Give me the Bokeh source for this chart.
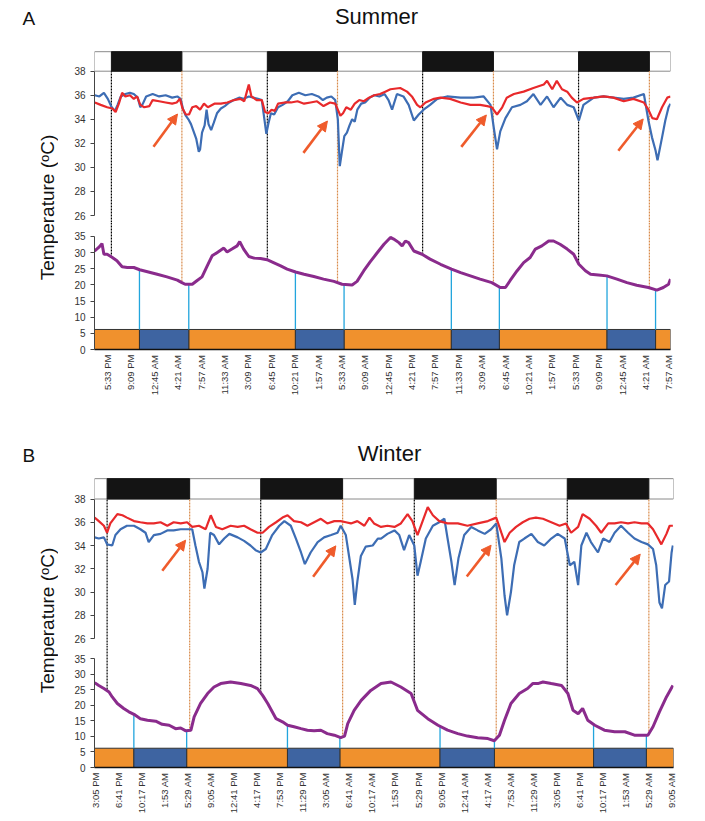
import numpy as np
from bokeh.plotting import figure
from bokeh.layouts import column, row
from bokeh.models import Range1d, LinearAxis, FixedTicker, Label, Arrow, NormalHead
from bokeh.embed import file_html
from bokeh.resources import INLINE

FONT = "Liberation Sans"
RED = "#e8292b"
BLUE = "#3d6db4"
PURPLE = "#8a2b8c"
ORANGE = "#f0912d"
BAR_BLUE = "#3e64a1"
ARROW_C = "#ef5b2b"
CYAN = "#22a5dd"
DOT_OR = "#d98b4b"

# ---------------- SUMMER data (time in hours from midnight of day 0) -------------
s_red_t = [15.6, 16.5, 17.5, 18.3, 18.8, 19.3, 19.8, 20.3, 21.0, 21.6, 22.1, 22.6, 23.2, 24.0, 24.5, 25.5,
           26.5, 27.5, 28.2, 28.7, 29.1, 29.6, 30.1, 30.6, 31.2, 31.8, 32.4, 33.0, 34.0, 35.0, 36.0, 37.0,
           38.0, 38.6, 39.0, 39.3, 39.7, 40.5, 41.3, 41.8, 42.3, 42.8, 43.3, 43.8, 44.8, 45.8, 46.8, 47.8,
           48.8, 49.8, 50.8, 51.8, 52.6, 53.0, 53.4, 53.8, 54.3, 55.0, 55.6, 56.3, 57.0, 57.8, 58.6, 59.5,
           60.3, 61.1, 62.6, 63.65, 64.4, 65.2, 65.7, 66.5, 67.8, 68.8, 70.3, 71.9, 73.4, 74.9, 76.0, 76.7,
           77.5, 78.3, 79.0, 80.1, 81.6, 83.1, 84.7, 85.2, 86.0, 86.7, 87.5, 88.3, 89.0, 89.8, 90.8, 92.4,
           93.9, 95.4, 97.0, 98.5, 100.1, 100.8, 101.4, 102.1, 102.9, 103.7, 104.2]
s_red = [35.4, 35.2, 35.0, 34.9, 34.6, 35.3, 36.2, 35.9, 36.0, 35.7, 35.9, 35.2, 35.0, 35.1, 35.6, 35.5,
         35.4, 35.3, 35.4, 35.7, 34.9, 34.4, 34.4, 35.0, 35.1, 34.8, 35.3, 35.0, 35.3, 35.3, 35.4, 35.6,
         35.7, 35.5, 36.3, 36.9, 35.9, 35.6, 35.6, 34.6, 34.5, 34.8, 34.7, 35.3, 35.4, 35.4, 35.5, 35.3,
         35.4, 35.5, 35.1, 35.4, 35.3, 34.8, 34.3, 34.5, 35.0, 34.8, 35.3, 35.6, 35.5, 35.8, 36.0, 36.1,
         36.3, 36.5, 36.6, 36.3, 35.9, 35.2, 35.0, 35.4, 35.7, 35.8, 35.7, 35.4, 35.2, 35.2, 35.1, 35.0,
         34.4, 35.0, 35.8, 36.1, 36.3, 36.6, 36.9, 37.2, 36.5, 37.2, 36.5, 36.3, 35.8, 35.4, 35.7, 35.8,
         35.9, 35.8, 35.5, 35.7, 35.4, 34.8, 34.1, 34.0, 35.0, 35.8, 35.9]

s_blue_t = [15.6, 16.3, 17.0, 17.6, 18.2, 18.7, 19.1, 19.6, 20.3, 21.0, 21.6, 22.2, 22.6, 23.0, 23.5, 24.5,
            25.5, 26.5, 27.5, 28.3, 28.8, 29.2, 29.6, 30.0, 30.4, 30.8, 31.2, 31.6, 31.8, 32.1, 32.5, 32.8,
            33.1, 33.5, 33.9, 34.4, 35.0, 35.6, 36.3, 37.0, 37.8, 38.5, 39.3, 40.0, 40.7, 41.3, 41.7, 42.0,
            42.3, 42.7, 43.2, 43.8, 44.5, 45.3, 46.0, 47.0, 48.0, 49.0, 50.0, 50.7, 51.3, 52.0, 52.6, 53.0,
            53.3, 53.6, 54.0, 54.4, 54.8, 55.2, 55.6, 56.0, 56.6, 57.2, 57.9, 58.6, 59.4, 60.2, 60.8, 61.35,
            62.1, 63.1, 63.9, 64.7, 65.45, 66.2, 67.2, 68.3, 69.8, 71.9, 73.9, 75.45, 76.5, 77.0, 77.5, 78.0,
            78.8, 79.8, 81.1, 82.1, 83.1, 84.2, 85.2, 86.2, 87.3, 88.3, 89.3, 90.1, 90.8, 92.4, 93.9, 95.45,
            97.0, 98.5, 100.1, 100.8, 101.35, 101.9, 102.2, 102.9, 103.4, 103.9, 104.2]
s_blue = [36.0, 35.9, 36.2, 35.7, 35.0, 34.7, 35.2, 35.9, 36.1, 36.2, 36.1, 35.8, 35.0, 35.3, 35.9, 36.1,
          35.9, 36.0, 35.8, 35.9, 35.7, 34.8, 34.3, 34.0, 33.6, 33.0, 32.4, 31.3, 31.5, 32.9, 33.5, 34.8,
          33.6, 33.1, 33.7, 34.5, 34.9, 35.1, 35.4, 35.6, 35.8, 35.7, 35.9, 35.8, 35.7, 35.6, 34.0, 32.8,
          33.6, 34.5, 34.4, 35.0, 35.2, 35.5, 36.0, 36.2, 36.0, 36.1, 35.9, 35.6, 35.8, 35.9, 35.6, 34.0,
          30.1, 31.2, 32.6, 32.9, 33.5, 34.0, 33.8, 34.8, 35.3, 35.4, 35.8, 36.0, 35.9, 36.1, 35.6, 34.8,
          36.1, 35.9, 35.2, 33.9, 34.4, 34.8, 35.2, 35.7, 35.9, 35.8, 35.8, 35.9, 35.2, 33.3, 31.5, 33.0,
          34.1, 35.0, 35.2, 35.5, 36.1, 35.2, 35.9, 35.0, 35.8, 35.2, 35.0, 33.9, 35.2, 35.8, 35.9, 35.8,
          35.7, 35.8, 36.1, 33.9, 32.5, 31.4, 30.6, 32.5, 33.9, 35.0, 35.3]

s_amb_t = [15.55, 16.2, 16.7, 17.0, 17.5, 18.3, 19.0, 19.8, 20.6, 21.6, 22.5, 23.7, 25.2, 26.7, 28.3, 29.0,
           29.5, 30.6, 31.3, 32.1, 32.9, 33.65, 34.4, 35.45, 35.96, 36.7, 37.5, 37.9, 38.5, 39.3, 40.1, 41.1,
           42.1, 43.1, 44.2, 45.2, 46.5, 47.8, 49.3, 50.8, 52.4, 53.65, 55.2, 55.96, 57.0, 58.0, 59.0, 60.1,
           61.1, 61.6, 62.4, 62.9, 63.4, 63.9, 64.7, 65.96, 67.2, 68.8, 70.5, 71.9, 73.4, 74.9, 76.7, 78.0,
           78.8, 79.5, 80.6, 81.6, 82.6, 83.4, 84.4, 85.45, 86.2, 87.2, 88.3, 89.3, 90.1, 91.1, 91.9, 93.1,
           94.4, 95.96, 97.5, 99.0, 100.8, 102.1, 103.1, 103.9, 104.2]
s_amb = [30.5, 31.6, 32.8, 29.5, 29.5, 28.5, 27.5, 25.6, 25.4, 25.4, 24.7, 24.1, 23.3, 22.5, 21.5, 20.7,
         20.2, 20.2, 21.3, 22.5, 25.9, 29.0, 30.0, 31.4, 30.2, 31.1, 32.1, 33.4, 31.1, 28.8, 28.3, 28.2,
         27.8, 26.9, 25.9, 24.9, 24.0, 23.3, 22.6, 21.8, 21.1, 20.2, 20.0, 21.1, 24.4, 27.2, 29.8, 32.6,
         34.7, 34.2, 33.1, 32.1, 33.6, 33.1, 30.5, 29.5, 28.0, 26.4, 24.9, 23.8, 22.8, 21.8, 20.7, 19.2,
         19.2, 21.3, 24.4, 26.9, 28.5, 31.1, 32.1, 33.6, 33.6, 32.6, 31.1, 29.5, 26.4, 24.4, 23.3, 23.1,
         22.8, 21.8, 20.7, 19.9, 19.2, 18.4, 19.2, 20.2, 21.8]

s_dark_start = [18.15, 42.15, 66.05, 90.05]
s_dark_end = [29.0, 52.95, 76.95, 100.95]
s_in_start = [22.47, 46.47, 70.47, 94.43]
s_in_end = [30.06, 53.96, 77.86, 101.9]
s_tick_labels = ["5:33 PM", "9:09 PM", "12:45 AM", "4:21 AM", "7:57 AM", "11:33 AM", "3:09 PM", "6:45 PM",
                 "10:21 PM", "1:57 AM", "5:33 AM", "9:09 AM", "12:45 PM", "4:21 PM", "7:57 PM", "11:33 PM",
                 "3:09 AM", "6:45 AM", "10:21 AM", "1:57 PM", "5:33 PM", "9:09 PM", "12:45 AM", "4:21 AM",
                 "7:57 AM"]
s_first_tick_min = 17 * 60 + 33
s_arrow_tail = [(24.63, 31.71), (47.7, 31.21), (72.0, 31.71), (96.17, 31.38)]
s_arrow_head = [(28.32, 34.44), (51.4, 33.86), (75.86, 34.36), (100.0, 34.03)]

# ---------------- WINTER data -------------
w_red_t = [14.95, 15.6, 16.4, 16.9, 17.4, 18.5, 19.3, 20.0, 21.1, 22.1, 23.2, 24.2, 25.25, 26.3, 27.3, 28.4,
           29.4, 30.2, 31.25, 32.3, 33.1, 33.9, 34.9, 36.2, 37.3, 38.3, 39.3, 40.4, 41.2, 42.2, 43.3, 44.3,
           45.1, 46.1, 47.2, 48.2, 49.25, 50.3, 51.3, 52.4, 53.4, 54.2, 55.0, 56.0, 57.1, 57.9, 58.6, 59.7,
           60.7, 61.8, 62.8, 63.85, 64.6, 65.4, 66.2, 67.0, 67.8, 68.8, 70.1, 71.7, 73.2, 74.8, 76.4, 77.7,
           78.5, 79.0, 79.8, 80.8, 81.85, 82.9, 83.9, 85.0, 86.3, 87.6, 88.6, 89.4, 90.5, 91.2, 92.3, 93.3,
           94.1, 95.2, 96.2, 97.2, 98.3, 99.3, 100.4, 101.4, 102.2, 103.0, 103.5, 104.3, 104.8, 105.3]
w_red = [36.4, 36.1, 35.7, 35.1, 35.9, 36.7, 36.6, 36.4, 36.1, 36.0, 35.9, 35.9, 36.0, 35.7, 36.0, 35.9,
         36.0, 35.6, 35.7, 35.4, 36.6, 35.6, 35.4, 35.7, 35.6, 35.7, 35.4, 35.1, 35.1, 35.6, 36.0, 36.4,
         36.6, 36.1, 36.0, 35.7, 36.0, 36.3, 35.9, 36.1, 36.1, 36.0, 35.9, 36.1, 35.7, 36.4, 35.9, 35.6,
         35.7, 35.6, 35.9, 36.7, 36.1, 34.9, 36.1, 37.3, 36.6, 36.1, 35.9, 35.9, 35.7, 35.9, 36.1, 36.4,
         35.1, 34.3, 35.1, 35.6, 36.0, 36.3, 36.4, 36.3, 36.0, 35.7, 35.9, 35.1, 35.6, 36.7, 36.3, 35.7,
         35.1, 35.9, 35.9, 36.0, 35.9, 36.0, 35.9, 35.9, 35.4, 34.6, 34.1, 35.0, 35.7, 35.7]

w_blue_t = [14.95, 15.6, 16.4, 16.9, 17.7, 18.2, 19.0, 20.0, 21.1, 22.1, 22.9, 23.4, 24.2, 25.25, 26.3, 27.3,
            28.4, 29.4, 30.2, 30.7, 31.25, 31.8, 32.1, 32.6, 33.0, 33.6, 34.4, 35.2, 36.0, 37.3, 38.3, 39.3,
            40.1, 40.9, 41.7, 42.7, 43.8, 44.6, 45.6, 46.4, 47.2, 47.8, 48.7, 49.8, 50.8, 51.9, 52.9, 53.4,
            54.2, 54.7, 55.25, 55.6, 56.0, 56.55, 57.3, 58.4, 59.2, 59.7, 60.7, 61.8, 62.55, 63.3, 64.1, 64.9,
            65.4, 65.9, 66.7, 67.8, 68.8, 69.6, 70.1, 70.7, 71.2, 71.8, 72.7, 73.8, 74.8, 75.9, 76.9, 77.7,
            78.5, 79.0, 79.4, 80.0, 80.5, 81.3, 82.1, 83.2, 84.2, 85.2, 86.3, 87.3, 88.4, 89.2, 89.9, 90.5,
            91.0, 91.8, 92.5, 93.6, 94.4, 95.4, 96.2, 97.2, 98.3, 99.3, 100.4, 101.4, 102.2, 102.7, 103.2,
            103.6, 104.1, 104.7, 105.1, 105.3]
w_blue = [34.7, 34.6, 34.7, 34.1, 34.0, 34.9, 35.4, 35.7, 35.7, 35.4, 35.1, 34.3, 34.9, 35.0, 35.3, 35.3,
          35.4, 35.4, 35.4, 34.0, 32.6, 31.7, 30.3, 32.0, 35.1, 34.9, 34.1, 34.6, 35.0, 34.7, 34.4, 34.0,
          33.6, 33.4, 33.7, 34.9, 35.7, 36.1, 35.7, 34.6, 33.4, 32.4, 33.4, 34.3, 34.7, 34.9, 35.1, 35.7,
          34.9, 33.1, 31.1, 28.9, 30.9, 33.1, 33.9, 34.0, 34.6, 34.6, 35.0, 35.3, 34.9, 33.6, 34.9, 34.0,
          31.4, 32.6, 34.6, 35.7, 36.0, 36.3, 34.6, 32.6, 30.6, 32.9, 34.9, 35.6, 35.3, 35.0, 35.4, 35.9,
          32.9, 29.7, 28.0, 30.0, 32.3, 34.3, 34.6, 35.0, 34.3, 34.0, 34.6, 35.0, 34.6, 32.3, 32.6, 30.6,
          34.0, 35.1, 34.3, 33.4, 34.6, 34.3, 35.1, 35.7, 35.1, 34.6, 34.3, 34.1, 33.7, 32.3, 29.1,
          28.6, 30.6, 30.9, 33.4, 34.0]

w_amb_t = [14.95, 15.6, 16.4, 17.2, 17.7, 18.5, 19.5, 20.3, 21.1, 22.1, 23.2, 24.5, 25.5, 26.6, 27.6, 28.4,
           29.2, 30.0, 30.5, 31.5, 32.6, 33.6, 34.65, 36.2, 37.8, 39.3, 40.4, 41.2, 42.0, 43.3, 44.3, 45.1,
           46.1, 47.2, 48.2, 49.25, 50.3, 51.3, 52.4, 53.4, 54.0, 54.5, 55.5, 56.6, 58.1, 59.7, 61.25, 62.8,
           64.4, 65.4, 67.0, 68.6, 70.1, 71.7, 73.2, 74.8, 76.4, 77.4, 78.2, 79.0, 80.0, 81.3, 82.6, 83.4,
           84.2, 85.0, 86.3, 87.9, 88.9, 89.7, 90.5, 91.2, 92.0, 93.1, 94.6, 96.2, 97.8, 99.3, 100.6, 101.4,
           102.2, 103.2, 104.3, 105.3]
w_amb = [27.3, 26.4, 25.4, 24.3, 22.7, 20.6, 19.0, 17.9, 17.1, 15.7, 15.2, 14.9, 13.9, 13.6, 12.5, 12.7,
         11.8, 12.0, 16.3, 20.6, 23.8, 25.9, 27.0, 27.5, 27.0, 26.4, 25.4, 23.2, 20.6, 15.7, 14.7, 13.6,
         13.1, 12.5, 12.0, 11.8, 12.0, 10.9, 10.4, 9.6, 10.1, 14.1, 18.4, 21.6, 24.8, 27.0, 27.5, 25.9,
         23.8, 18.4, 15.7, 13.6, 12.0, 10.9, 10.1, 9.6, 9.3, 8.6, 10.4, 15.2, 20.6, 23.8, 25.4, 27.0,
         27.0, 27.5, 27.0, 26.4, 23.8, 18.4, 17.3, 19.0, 15.2, 13.6, 12.0, 11.5, 11.5, 10.4, 10.4, 10.4,
         13.1, 17.9, 22.7, 26.4]

w_dark_start = [16.9, 40.9, 64.9, 88.8]
w_dark_end = [29.8, 53.7, 77.7, 101.55]
w_in_start = [21.08, 45.08, 68.92, 92.91]
w_in_end = [29.33, 53.27, 77.42, 101.16]
w_tick_labels = ["3:05 PM", "6:41 PM", "10:17 PM", "1:53 AM", "5:29 AM", "9:05 AM", "12:41 PM", "4:17 PM",
                 "7:53 PM", "11:29 PM", "3:05 AM", "6:41 AM", "10:17 AM", "1:53 PM", "5:29 PM", "9:05 PM",
                 "12:41 AM", "4:17 AM", "7:53 AM", "11:29 AM", "3:05 PM", "6:41 PM", "10:17 PM", "1:53 AM",
                 "5:29 AM", "9:05 AM"]
w_first_tick_min = 15 * 60 + 5
w_arrow_tail = [(25.52, 31.83), (49.09, 31.32), (73.1, 31.34), (96.35, 30.6)]
w_arrow_head = [(29.17, 34.46), (52.64, 33.97), (76.9, 34.03), (100.2, 33.26)]

body_ticks = [26, 28, 30, 32, 34, 36, 38]
amb_ticks = [0, 5, 10, 15, 20, 25, 30, 35]
BAR_TOP = 6.2
TICK_STEP_MIN = 216  # 3 h 36 min between labelled ticks


def H(a):
    return np.asarray(a, dtype=float) * 60.0


def base_fig(**kw):
    p = figure(toolbar_location=None, output_backend="svg", x_axis_type=None, y_axis_type=None,
               outline_line_color=None, **kw)
    p.grid.visible = False
    return p


def style_axis(ax, size="10px"):
    ax.major_label_text_font = FONT
    ax.major_label_text_font_size = size
    ax.major_label_text_color = "#333333"
    ax.axis_line_color = "#444444"
    ax.major_tick_line_color = "#444444"
    ax.minor_tick_line_color = None
    ax.major_tick_in = 0
    ax.major_tick_out = 4


def header(letter, title, height, base, title_x):
    p = base_fig(width=705, height=height, x_range=Range1d(0, 705), y_range=Range1d(0, height),
                 min_border=0)
    p.add_layout(Label(x=22, y=base, x_units="screen", y_units="screen", text=letter,
                       text_font=FONT, text_font_size="19px", text_color="#111111"))
    p.add_layout(Label(x=title_x, y=base, x_units="screen", y_units="screen", text=title,
                       text_font=FONT, text_font_size="22px", text_align="center", text_color="#111111"))
    return p


def panel(d):
    fw, rb = d["fw"], d["rb"]
    xr = Range1d(d["x0"] * 60, d["x1"] * 60)
    box_top = d["box_top"]
    pad = 7  # pixels kept below the 26 tick so its label is not cut
    body_bot = 26 - pad / d["px_body"]
    amb_top = 41.5 - pad / d["px_amb"]
    # ---------- body temperature section ----------
    b = base_fig(frame_width=fw, frame_height=d["fh_body"] + pad, x_range=xr,
                 y_range=Range1d(body_bot, box_top + 0.1), min_border_left=36, min_border_right=rb,
                 min_border_top=0, min_border_bottom=0)
    yax = LinearAxis(bounds=(26, 38), ticker=FixedTicker(ticks=body_ticks))
    style_axis(yax)
    b.add_layout(yax, "left")
    # light / dark box
    b.quad(left=[d["x0"] * 60], right=[d["x1"] * 60], bottom=[38], top=[box_top],
           fill_color="white", line_color="#8a8a8a", line_width=1)
    b.quad(left=H(d["dark_start"]), right=H(d["dark_end"]), bottom=38, top=box_top,
           fill_color="#141414", line_color="#141414")
    b.segment(x0=H(d["dark_start"]), y0=body_bot, x1=H(d["dark_start"]), y1=38,
              line_color="#000000", line_dash="2 1", line_width=1.2)
    b.segment(x0=H(d["dark_end"]), y0=body_bot, x1=H(d["dark_end"]), y1=38,
              line_color=DOT_OR, line_dash="2 1", line_width=1.2)
    b.line(H(d["blue_t"]), d["blue"], line_color=BLUE, line_width=2.2)
    b.line(H(d["red_t"]), d["red"], line_color=RED, line_width=2.2)
    for (tx, ty), (hx, hy) in zip(d["arrow_tail"], d["arrow_head"]):
        b.add_layout(Arrow(end=NormalHead(size=10, fill_color=ARROW_C, line_color=ARROW_C),
                           x_start=tx * 60, y_start=ty, x_end=hx * 60, y_end=hy,
                           line_color=ARROW_C, line_width=2.6))
    # ---------- ambient temperature section ----------
    a = base_fig(frame_width=fw, frame_height=d["fh_amb"] - pad, x_range=xr, y_range=Range1d(0, amb_top),
                 min_border_left=36, min_border_right=rb, min_border_top=0,
                 min_border_bottom=d["bb"])
    yax2 = LinearAxis(bounds=(0, 35), ticker=FixedTicker(ticks=amb_ticks))
    style_axis(yax2)
    a.add_layout(yax2, "left")
    labels = d["tick_labels"]
    ticks = [d["first_tick"] + TICK_STEP_MIN * i for i in range(len(labels))]
    xax = LinearAxis(ticker=FixedTicker(ticks=ticks),
                     major_label_overrides={t: s for t, s in zip(ticks, labels)},
                     major_label_orientation=np.pi / 2)
    style_axis(xax, "9.5px")
    xax.axis_line_color = "#111111"
    xax.axis_line_width = 1.6
    xax.major_tick_out = 0
    xax.major_label_standoff = 5
    a.add_layout(xax, "below")

    amb_t = H(d["amb_t"])
    amb = np.asarray(d["amb"], dtype=float)
    # outside / inside bar
    ins, ine = H(d["in_start"]), H(d["in_end"])
    out_l = np.concatenate([[d["x0"] * 60], ine])
    out_r = np.concatenate([ins, [d["x1"] * 60]])
    a.quad(left=out_l, right=out_r, bottom=0, top=BAR_TOP, fill_color=ORANGE,
           line_color="#333333", line_width=1)
    a.quad(left=ins, right=ine, bottom=0, top=BAR_TOP, fill_color=BAR_BLUE,
           line_color="#333333", line_width=1)
    edges = np.concatenate([ins, ine])
    a.segment(x0=edges, y0=BAR_TOP, x1=edges, y1=np.interp(edges, amb_t, amb),
              line_color=CYAN, line_width=1.3)
    ds, de = H(d["dark_start"]), H(d["dark_end"])
    a.segment(x0=ds, y0=amb_top, x1=ds, y1=np.interp(ds, amb_t, amb),
              line_color="#000000", line_dash="2 1", line_width=1.2)
    a.segment(x0=de, y0=amb_top, x1=de, y1=np.interp(de, amb_t, amb),
              line_color=DOT_OR, line_dash="2 1", line_width=1.2)
    a.line(amb_t, amb, line_color=PURPLE, line_width=3)

    # ---------- y label ----------
    hh = d["fh_body"] + d["fh_amb"] + d["bb"]
    yl = base_fig(width=58, height=hh, x_range=Range1d(0, 1), y_range=Range1d(0, 1), min_border=0)
    yl.add_layout(Label(x=47, y=hh - d["label_cy"], x_units="screen", y_units="screen",
                        text="Temperature (\u1d52C)", angle=np.pi / 2, text_align="center",
                        text_baseline="middle", text_font=FONT, text_font_size="19px",
                        text_color="#111111"))
    return row(yl, column(b, a))


summer = dict(fw=576, rb=35, x0=15.55, x1=104.2, box_top=39.62, fh_body=165, fh_amb=134, bb=60,
              px_body=12.08, px_amb=3.23,
              red_t=s_red_t, red=s_red, blue_t=s_blue_t, blue=s_blue, amb_t=s_amb_t, amb=s_amb,
              dark_start=s_dark_start, dark_end=s_dark_end, in_start=s_in_start, in_end=s_in_end,
              tick_labels=s_tick_labels, first_tick=s_first_tick_min,
              arrow_tail=s_arrow_tail, arrow_head=s_arrow_head, label_cy=157)
winter = dict(fw=579, rb=32, x0=14.93, x1=105.4, box_top=39.75, fh_body=161, fh_amb=129, bb=54,
              px_body=11.67, px_amb=3.11,
              red_t=w_red_t, red=w_red, blue_t=w_blue_t, blue=w_blue, amb_t=w_amb_t, amb=w_amb,
              dark_start=w_dark_start, dark_end=w_dark_end, in_start=w_in_start, in_end=w_in_end,
              tick_labels=w_tick_labels, first_tick=w_first_tick_min,
              arrow_tail=w_arrow_tail, arrow_head=w_arrow_head, label_cy=143)

layout = column(
    header("A", "Summer", 50, 22, 376),
    panel(summer),
    header("B", "Winter", 68, 12, 389),
    panel(winter),
)

open("out.html", "w").write(file_html(layout, INLINE))
